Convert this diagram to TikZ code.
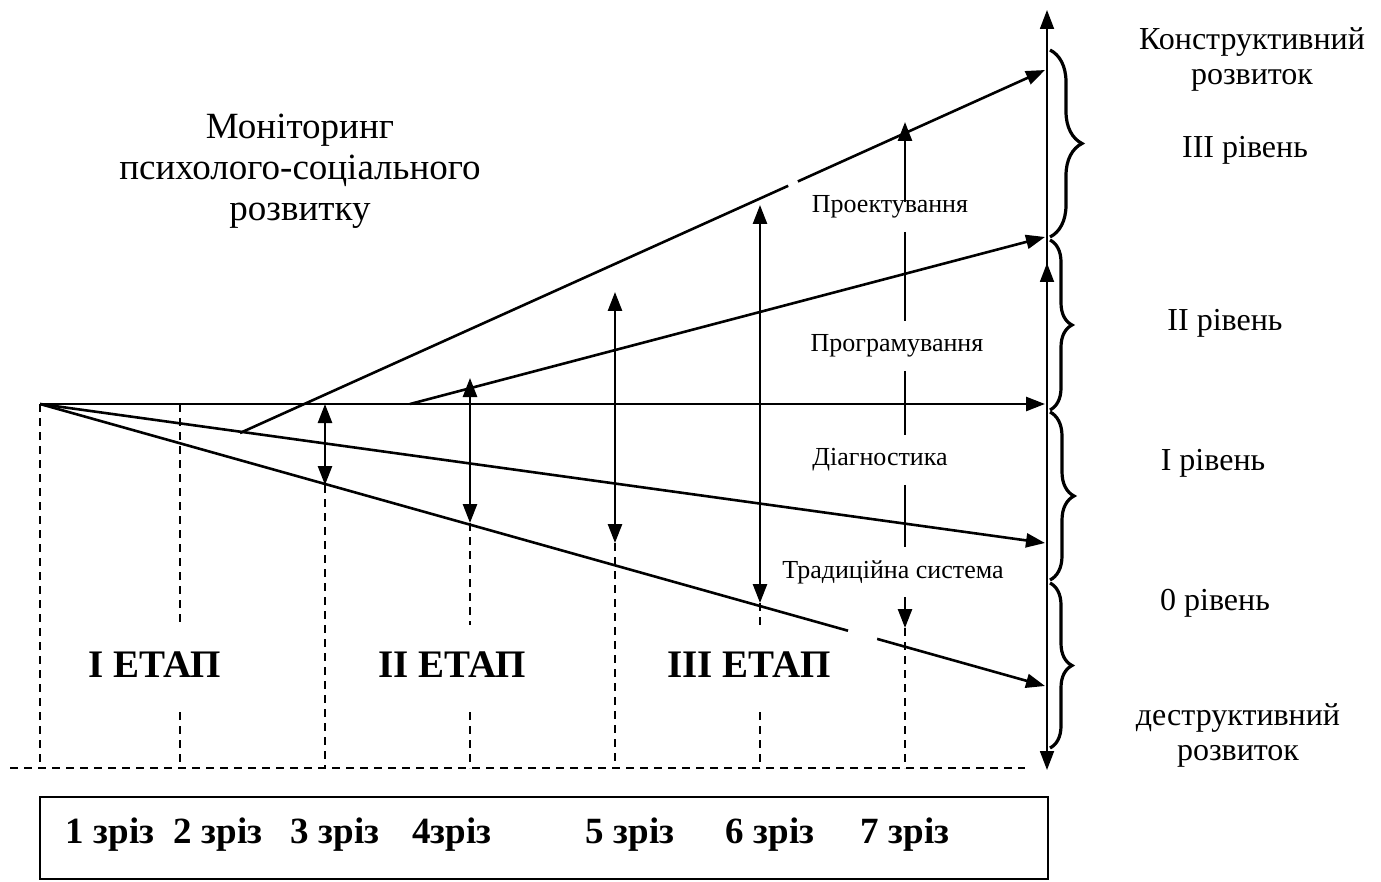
\documentclass[tikz,border=0pt]{standalone}
\usepackage{fontspec}
\setmainfont{Liberation Serif}
\usetikzlibrary{arrows.meta,decorations.pathreplacing,calc}

\tikzset{
  line/.style={line width=2.6pt},
  arr/.style={line width=2.6pt,-{Triangle[length=19pt,width=14pt]}},
  dbl/.style={line width=2.6pt,{Triangle[length=19pt,width=14pt]}-{Triangle[length=19pt,width=14pt]}},
  cut/.style={line width=1.8pt,dash pattern=on 8pt off 6pt},
  lvl/.style={decorate,decoration={brace,amplitude=#1},line width=3.2pt},
  big/.style={font=\fontsize{32}{35}\selectfont,align=center},
  head/.style={font=\fontsize{37}{41}\selectfont,align=center},
  mid/.style={font=\fontsize{26}{30}\selectfont},
  stage/.style={font=\bfseries\fontsize{39}{42}\selectfont},
  slice/.style={font=\bfseries\fontsize{37}{40}\selectfont},
}

\begin{document}
\begin{tikzpicture}[x=1pt,y=-1pt]
\useasboundingbox (0,0) rectangle (1381,882);

% fan of lines
\coordinate (O) at (40,404);
\coordinate (H) at (1045,404);
\coordinate (A) at (1045,543);
\coordinate (B) at (1045,686);
\coordinate (C0) at (240,433);
\coordinate (C) at (1045,70);
\coordinate (D0) at (410,404);
\coordinate (D) at (1045,237);

\draw[arr] (O) -- (H);
\draw[arr] (O) -- (A);
\draw[line] (O) -- ($(O)!0.804!(B)$);
\draw[arr] ($(O)!0.833!(B)$) -- (B);
\draw[line] (C0) -- ($(C0)!0.681!(C)$);
\draw[arr] ($(C0)!0.693!(C)$) -- (C);
\draw[arr] (D0) -- (D);

% axis
\coordinate (top) at (1047,10);
\coordinate (bot) at (1047,770);
\coordinate (M) at (1047,263);
\draw[dbl,line width=1.8pt] (bot) -- (top);
\draw[arr,line width=1.8pt] (M |- O) -- (M);

% braces
\draw[lvl=32pt] (1050,50) -- (1050,237);
\draw[lvl=22pt] (1050,240) -- (1050,410);
\draw[lvl=24pt] (1050,412) -- (1050,580);
\draw[lvl=22pt] (1050,583) -- (1050,748);

% labels
\node[head] (mon) at (300,171) {Моніторинг\\психолого-соціального\\розвитку};

\node[big] (constr) at (1252,59) {Конструктивний\\розвиток};
\node[big] (lev3) at (1245,150) {III рівень};
\node[big] (lev2) at (1225,323) {II рівень};
\node[big] (lev1) at (1213,463) {I рівень};
\node[big] (lev0) at (1215,603) {0 рівень};
\node[big] (destr) at (1238,735) {деструктивний\\розвиток};

\node[mid] (proj) at (890,207) {Проектування};
\node[mid] (prog) at (897,346) {Програмування};
\node[mid] (diag) at (880,460) {Діагностика};
\node[mid] (trad) at (893,572) {Традиційна система};

\node[stage] (st1) at (155,665) {I ЕТАП};
\node[stage] (st2) at (452,665) {II ЕТАП};
\node[stage] (st3) at (749,665) {III ЕТАП};

% slices
\coordinate (u3) at (325,404);  \coordinate (d3) at (325,485);
\coordinate (u4) at (470,378);  \coordinate (d4) at (470,523);
\coordinate (u5) at (615,292);  \coordinate (d5) at (615,543);
\coordinate (u6) at (760,205);  \coordinate (d6) at (760,603);
\coordinate (u7) at (905,122);  \coordinate (d7) at (905,628);

\draw[dbl] (u3) -- (d3);
\draw[dbl] (u4) -- (d4);
\draw[dbl] (u5) -- (d5);
\draw[dbl] (u6) -- (d6);
\draw[arr] ([yshift=-10pt]proj.north -| u7) -- (u7);
\draw[line] ([yshift=-10pt]proj.south -| u7) -- ([yshift=10pt]prog.north -| u7);
\draw[line] ([yshift=-10pt]prog.south -| u7) -- ([yshift=10pt]diag.north -| u7);
\draw[line] ([yshift=-10pt]diag.south -| u7) -- ([yshift=10pt]trad.north -| u7);
\draw[arr] ([yshift=-10pt]trad.south -| u7) -- (d7);

\draw[cut] (40,404) -- (40,768);
\draw[cut] (180,404) -- (180,625) (180,712) -- (180,768);
\draw[cut] (d3) -- (325,768);
\draw[cut] (d4) -- (470,625) (470,712) -- (470,768);
\draw[cut] (d5) -- (615,768);
\draw[cut] (d6) -- (760,625) (760,712) -- (760,768);
\draw[cut] (d7) -- (905,768);
\draw[cut] (10,768) -- (1025,768);

% bottom box
\draw[line] (40,797) rectangle (1048,879);
\node[slice] (z1) at (110,835) {1 зріз};
\node[slice] (z2) at (218,835) {2 зріз};
\node[slice] (z3) at (335,835) {3 зріз};
\node[slice] (z4) at (452,835) {4зріз};
\node[slice] (z5) at (630,835) {5 зріз};
\node[slice] (z6) at (770,835) {6 зріз};
\node[slice] (z7) at (905,835) {7 зріз};
\end{tikzpicture}
\end{document}
